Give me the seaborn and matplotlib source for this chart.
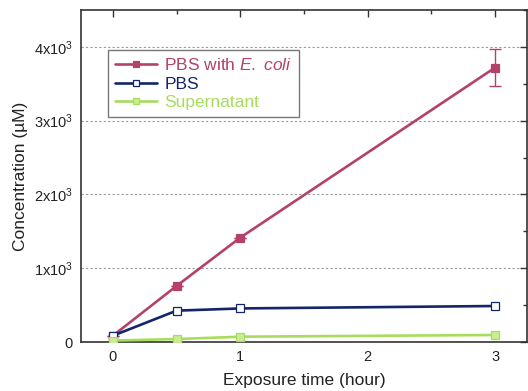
import matplotlib
matplotlib.use("Agg")
import matplotlib.pyplot as plt
from matplotlib.ticker import MultipleLocator, FuncFormatter
import seaborn as sns
import pandas as pd

# Exposure times (hours) and measured concentrations (µM)
time_h = [0, 0.5, 1, 3]
ecoli = [85, 760, 1415, 3720]
ecoli_err = [0, 0, 0, 250]
pbs = [85, 425, 455, 488]
supernatant = [20, 40, 72, 95]

series_names = ["PBS with E. coli", "PBS", "Supernatant"]
legend_labels = [r"PBS with $\it{E.}$ $\it{coli}$", "PBS", "Supernatant"]
colors = ["#B4416B", "#14256A", "#A6DE5C"]

sns.set_theme(style="white")
plt.rcParams["font.family"] = ["Liberation Sans", "DejaVu Sans"]
plt.rcParams["mathtext.fontset"] = "custom"
plt.rcParams["mathtext.rm"] = "Liberation Sans"
plt.rcParams["mathtext.it"] = "Liberation Sans:italic"

df = pd.DataFrame({
    "time": time_h * 3,
    "conc": ecoli + pbs + supernatant,
    "series": [s for s in series_names for _ in time_h],
})

fig = plt.figure(figsize=(5.28, 3.91), dpi=100)
ax = fig.add_axes([0.1534, 0.1253, 0.8447, 0.8491])

marker_styles = {
    "PBS with E. coli": dict(marker="s", mfc=colors[0], mec=colors[0]),
    "PBS": dict(marker="s", mfc="white", mec=colors[1]),
    "Supernatant": dict(marker="s", mfc="#C9EC94", mec=colors[2]),
}
handles = []
for name, col, lab in zip(series_names, colors, legend_labels):
    sub = df[df["series"] == name]
    sns.lineplot(data=sub, x="time", y="conc", ax=ax, color=col, lw=1.9,
                 markersize=5.2, markeredgewidth=0.9, zorder=3,
                 **marker_styles[name])
    handles.append(ax.lines[-1])

ax.errorbar(time_h, ecoli, yerr=ecoli_err, fmt="none", ecolor=colors[0],
            elinewidth=1.0, capsize=4, capthick=1.0, zorder=2)

ax.set_xlim(-0.25, 3.25)
ax.set_ylim(0, 4500)
ax.xaxis.set_major_locator(MultipleLocator(1))
ax.xaxis.set_minor_locator(MultipleLocator(0.5))
ax.yaxis.set_major_locator(MultipleLocator(1000))
ax.yaxis.set_minor_locator(MultipleLocator(500))

def yfmt(v, pos):
    if v == 0:
        return "0"
    return r"%dx10$^3$" % int(round(v / 1000))

ax.yaxis.set_major_formatter(FuncFormatter(yfmt))
ax.tick_params(which="both", direction="in", top=True, right=True,
               labelsize=10.5, colors="#333333", labelcolor="#222222")
ax.tick_params(which="major", length=5, width=1.0, pad=6)
ax.tick_params(which="minor", length=3, width=1.0)
ax.tick_params(axis="y", which="both", labelright=False)
ax.grid(axis="y", which="major", linestyle=(0, (2, 2)), color="#999999", lw=0.8)
ax.grid(axis="x", visible=False)
for sp in ax.spines.values():
    sp.set_color("#333333")
    sp.set_linewidth(1.2)

ax.set_xlabel("Exposure time (hour)", fontsize=12.5, color="#222222", labelpad=6)
ax.set_ylabel("Concentration (µM)", fontsize=12.5, color="#222222", labelpad=4)

leg = ax.legend(handles, legend_labels, loc="upper left",
                bbox_to_anchor=(0.0605, 0.8795), borderaxespad=0,
                fontsize=12.5, frameon=True, fancybox=False, handlelength=2.4,
                handletextpad=0.45, labelspacing=0.2, borderpad=0.4,
                markerscale=0.85)
leg.get_frame().set_edgecolor("#555555")
leg.get_frame().set_linewidth(1.0)
for txt, col in zip(leg.get_texts(), colors):
    txt.set_color(col)

fig.savefig("out.png", dpi=100)
